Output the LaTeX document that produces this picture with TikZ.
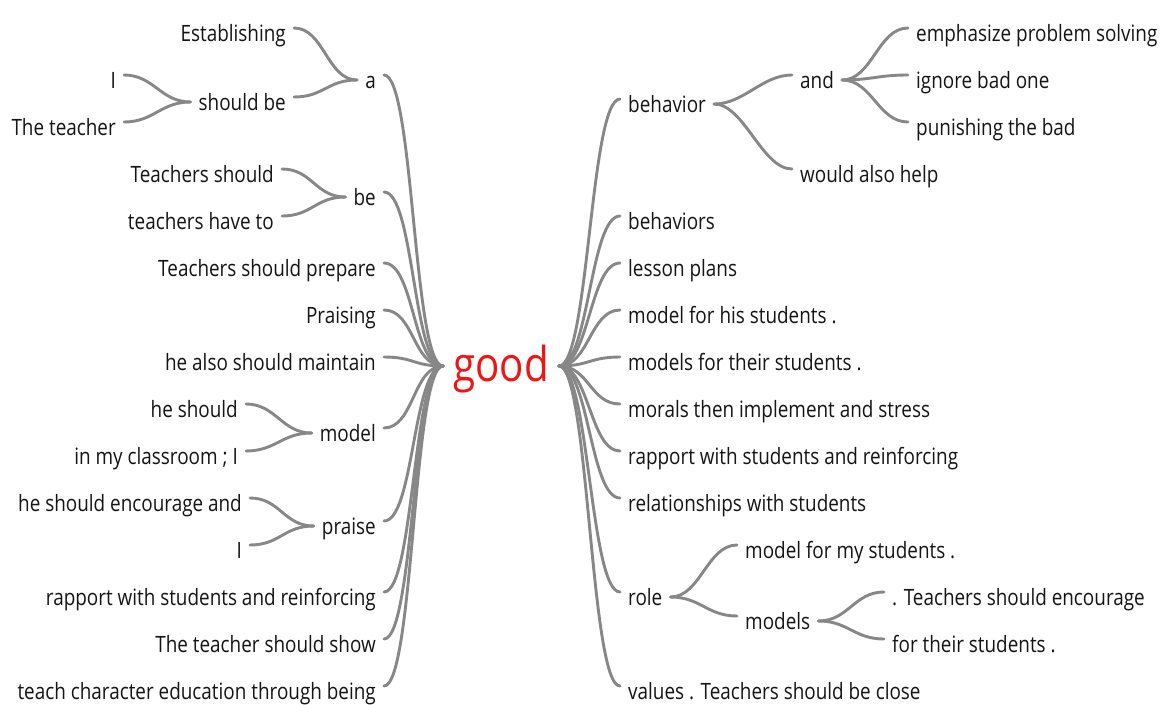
\documentclass[tikz,border=0pt]{standalone}
\usepackage{fontspec}
\setmainfont[FakeStretch=0.84]{Open Sans}
\usepackage{tikz}
\usetikzlibrary{positioning}
\definecolor{linegray}{RGB}{135,135,135}
\definecolor{wordgray}{RGB}{20,20,20}
\definecolor{rootred}{RGB}{240,20,20}
\tikzset{
  word/.style={inner xsep=8pt, inner ysep=0pt, text height=16pt, text depth=4pt,
    text=wordgray, font=\fontsize{22.5}{26}\selectfont},
  root/.style={inner xsep=10pt, inner ysep=0pt, text height=34pt, text depth=9pt,
    text=rootred, font=\fontsize{48}{52}\selectfont},
  branch/.style={draw=linegray, line width=2.9pt, line cap=round,
    to path={.. controls +(30pt,0) and +(-30pt,0) .. (\tikztotarget) \tikztonodes}}
}

\begin{document}
\begin{tikzpicture}[x=1pt,y=-1pt]
	\useasboundingbox (0,0) rectangle (1161,704);
	\node[root] (good) at (501,369) {good};
	\node[word,anchor=east] (a) at (384,82) {a};
	\node[word,anchor=east] (be) at (384,199) {be};
	\node[word,anchor=east] (prepare) at (384,270) {Teachers should prepare};
	\node[word,anchor=east] (praising) at (384,317) {Praising};
	\node[word,anchor=east] (maintain) at (384,364) {he also should maintain};
	\node[word,anchor=east] (model) at (384,435) {model};
	\node[word,anchor=east] (praise) at (384,528) {praise};
	\node[word,anchor=east] (rapportL) at (384,599) {rapport with students and reinforcing};
	\node[word,anchor=east] (show) at (384,646) {The teacher should show};
	\node[word,anchor=east] (teach) at (384,693) {teach character education through being};
	\node[word,anchor=east] (establishing) at (294,35) {Establishing};
	\node[word,anchor=east] (shouldbe) at (294,104) {should be};
	\node[word,anchor=east] (iA) at (124,82) {I};
	\node[word,anchor=east] (theteacher) at (124,129) {The teacher};
	\node[word,anchor=east] (tshould) at (282,176) {Teachers should};
	\node[word,anchor=east] (haveto) at (282,223) {teachers have to};
	\node[word,anchor=east] (heshould) at (246,411) {he should};
	\node[word,anchor=east] (classroom) at (246,458) {in my classroom ; I};
	\node[word,anchor=east] (encourage) at (250,505) {he should encourage and};
	\node[word,anchor=east] (iB) at (250,552) {I};
	\node[word,anchor=west] (behavior) at (620,106) {behavior};
	\node[word,anchor=west] (behaviors) at (620,223) {behaviors};
	\node[word,anchor=west] (lesson) at (620,270) {lesson plans};
	\node[word,anchor=west] (modelhis) at (620,317) {model for his students .};
	\node[word,anchor=west] (modelstheir) at (620,364) {models for their students .};
	\node[word,anchor=west] (morals) at (620,411) {morals then implement and stress};
	\node[word,anchor=west] (rapportR) at (620,458) {rapport with students and reinforcing};
	\node[word,anchor=west] (relations) at (620,505) {relationships with students};
	\node[word,anchor=west] (role) at (620,599) {role};
	\node[word,anchor=west] (values) at (620,693) {values . Teachers should be close};
	\node[word,anchor=west] (and) at (792,82) {and};
	\node[word,anchor=west] (alsohelp) at (792,176) {would also help};
	\node[word,anchor=west] (emphasize) at (908,35) {emphasize problem solving};
	\node[word,anchor=west] (ignore) at (908,82) {ignore bad one};
	\node[word,anchor=west] (punishing) at (908,129) {punishing the bad};
	\node[word,anchor=west] (modelmy) at (737,552) {model for my students .};
	\node[word,anchor=west] (models) at (737,623) {models};
	\node[word,anchor=west] (tencourage) at (884,599) {. Teachers should encourage};
	\node[word,anchor=west] (fortheir) at (884,646) {for their students .};
	\draw[branch] ([yshift=7pt]a.east) to ([yshift=3pt]good.west);
	\draw[branch] ([yshift=7pt]be.east) to ([yshift=3pt]good.west);
	\draw[branch] ([yshift=7pt]prepare.east) to ([yshift=3pt]good.west);
	\draw[branch] ([yshift=7pt]praising.east) to ([yshift=3pt]good.west);
	\draw[branch] ([yshift=7pt]maintain.east) to ([yshift=3pt]good.west);
	\draw[branch] ([yshift=7pt]model.east) to ([yshift=3pt]good.west);
	\draw[branch] ([yshift=7pt]praise.east) to ([yshift=3pt]good.west);
	\draw[branch] ([yshift=7pt]rapportL.east) to ([yshift=3pt]good.west);
	\draw[branch] ([yshift=7pt]show.east) to ([yshift=3pt]good.west);
	\draw[branch] ([yshift=7pt]teach.east) to ([yshift=3pt]good.west);
	\draw[branch] ([yshift=7pt]establishing.east) to ([yshift=2pt]a.west);
	\draw[branch] ([yshift=7pt]shouldbe.east) to ([yshift=2pt]a.west);
	\draw[branch] ([yshift=7pt]iA.east) to ([yshift=2pt]shouldbe.west);
	\draw[branch] ([yshift=7pt]theteacher.east) to ([yshift=2pt]shouldbe.west);
	\draw[branch] ([yshift=7pt]tshould.east) to ([yshift=2pt]be.west);
	\draw[branch] ([yshift=7pt]haveto.east) to ([yshift=2pt]be.west);
	\draw[branch] ([yshift=7pt]heshould.east) to ([yshift=2pt]model.west);
	\draw[branch] ([yshift=7pt]classroom.east) to ([yshift=2pt]model.west);
	\draw[branch] ([yshift=7pt]encourage.east) to ([yshift=2pt]praise.west);
	\draw[branch] ([yshift=7pt]iB.east) to ([yshift=2pt]praise.west);
	\draw[branch] ([yshift=3pt]good.east) to ([yshift=7pt]behavior.west);
	\draw[branch] ([yshift=3pt]good.east) to ([yshift=7pt]behaviors.west);
	\draw[branch] ([yshift=3pt]good.east) to ([yshift=7pt]lesson.west);
	\draw[branch] ([yshift=3pt]good.east) to ([yshift=7pt]modelhis.west);
	\draw[branch] ([yshift=3pt]good.east) to ([yshift=7pt]modelstheir.west);
	\draw[branch] ([yshift=3pt]good.east) to ([yshift=7pt]morals.west);
	\draw[branch] ([yshift=3pt]good.east) to ([yshift=7pt]rapportR.west);
	\draw[branch] ([yshift=3pt]good.east) to ([yshift=7pt]relations.west);
	\draw[branch] ([yshift=3pt]good.east) to ([yshift=7pt]role.west);
	\draw[branch] ([yshift=3pt]good.east) to ([yshift=7pt]values.west);
	\draw[branch] ([yshift=2pt]behavior.east) to ([yshift=7pt]and.west);
	\draw[branch] ([yshift=2pt]behavior.east) to ([yshift=7pt]alsohelp.west);
	\draw[branch] ([yshift=2pt]and.east) to ([yshift=7pt]emphasize.west);
	\draw[branch] ([yshift=2pt]and.east) to ([yshift=7pt]ignore.west);
	\draw[branch] ([yshift=2pt]and.east) to ([yshift=7pt]punishing.west);
	\draw[branch] ([yshift=2pt]role.east) to ([yshift=7pt]modelmy.west);
	\draw[branch] ([yshift=2pt]role.east) to ([yshift=7pt]models.west);
	\draw[branch] ([yshift=2pt]models.east) to ([yshift=7pt]tencourage.west);
	\draw[branch] ([yshift=2pt]models.east) to ([yshift=7pt]fortheir.west);
\end{tikzpicture}
\end{document}
